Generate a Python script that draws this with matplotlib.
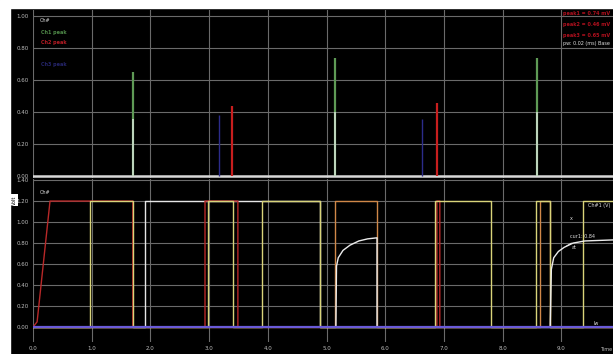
import matplotlib.pyplot as plt
from matplotlib.patches import Rectangle
import numpy as np

# peak detector channels (top panel)
peak_green_t = [1.70, 5.14, 8.59]
peak_green_h = [0.65, 0.74, 0.74]
peak_green_core = [0.36, 0.40, 0.40]
peak_red_t = [3.39, 6.88]
peak_red_h = [0.44, 0.46]
peak_blue_t = [3.17, 6.63]
peak_blue_h = [0.38, 0.36]

# digital lines (bottom panel), edge times and levels
yellow_t = [0, 0.97, 1.70, 2.98, 3.41, 3.90, 4.89, 6.85, 7.80, 8.57, 8.81, 9.37, 9.88]
yellow_v = [0, 1.2, 0, 1.2, 0, 1.2, 0, 1.2, 0, 1.2, 0, 1.2, 1.2]
white_t = [0, 1.91, 4.89, 9.88]
white_v = [0, 1.2, 0, 0]
orange_t = [0, 5.14, 5.86, 8.64, 8.81, 9.88]
orange_v = [0, 1.2, 0, 1.2, 0, 0]
red_x = [0, 0.07, 0.29, 1.70, 1.70, 2.93, 2.93, 3.49, 3.49, 6.88, 6.88, 6.93, 6.93, 9.88]
red_y = [0, 0.05, 1.2, 1.2, 0, 0, 1.2, 1.2, 0, 0, 1.2, 1.2, 0, 0]
blue_t = [0, 9.88]
blue_v = [0, 0]

# analog charge curves
charge1_x = [5.16, 5.17, 5.20, 5.28, 5.40, 5.55, 5.70, 5.86, 5.86]
charge1_y = [0, 0.58, 0.66, 0.73, 0.78, 0.82, 0.84, 0.85, 0]
charge2_x = [8.81, 8.83, 8.87, 8.95, 9.05, 9.20, 9.40, 9.88]
charge2_y = [0, 0.55, 0.66, 0.72, 0.76, 0.80, 0.82, 0.83]

x_ticks = np.arange(0, 10, 1.0)
top_ticks = [0.0, 0.2, 0.4, 0.6, 0.8, 1.0]
bot_ticks = [0.0, 0.2, 0.4, 0.6, 0.8, 1.0, 1.2, 1.4]

legend_names = ['Ch1 peak', 'Ch2 peak', 'Ch3 peak']
legend_colors = ['#4f8a48', '#b81c24', '#26266e']
legend_pos = [0.869, 0.804, 0.673]
readout_lines = ['peak1 = 0.74 mV', 'peak2 = 0.46 mV', 'peak3 = 0.65 mV']

fig = plt.figure(figsize=(6.13, 3.54), dpi=100)
fig.patch.set_facecolor('black')
fig.add_artist(Rectangle((0, 1 - 8/354), 1, 8/354, transform=fig.transFigure, color='white', zorder=0))
fig.add_artist(Rectangle((0, 0), 10/613, 1, transform=fig.transFigure, color='white', zorder=0))

ax1 = fig.add_axes([33/613, 1 - 178/354, 580/613, 168/354])
ax2 = fig.add_axes([33/613, 1 - 342/354, 580/613, 163/354], sharex=ax1)

grid_kw = dict(color='#6a6a6a', lw=0.8)
for ax in (ax1, ax2):
    ax.set_facecolor('black')
    for s in ax.spines.values():
        s.set_visible(False)
    ax.grid(True, **grid_kw)
    ax.set_axisbelow(True)
    ax.tick_params(length=0, colors='#bdbdbd', labelsize=4, pad=3)
    ax.set_xlim(0, 9.88)
    ax.set_xticks(x_ticks)

# top panel: peaks
ax1.set_ylim(-0.0125, 1.04)
ax1.set_yticks(top_ticks)
ax1.set_yticklabels(['%.2f' % v for v in top_ticks])
ax1.tick_params(labelbottom=False)
ax1.axhline(0, color='#d8d8d8', lw=1.8, zorder=3)
ax1.vlines(peak_blue_t, 0, peak_blue_h, color='#2c2c8a', lw=1.0, zorder=4)
ax1.vlines(peak_green_t, 0, peak_green_h, color='#5e9a55', lw=1.6, zorder=4)
ax1.vlines(peak_green_t, 0, peak_green_core, color='#cfe0d0', lw=1.2, zorder=5)
ax1.vlines(peak_red_t, 0, peak_red_h, color='#c81e1e', lw=1.6, zorder=4)

ax1.text(0.012, 0.94, 'Ch#', transform=ax1.transAxes, fontsize=3.5, color='#dddddd', va='center')
for name, col, yp in zip(legend_names, legend_colors, legend_pos):
    ax1.text(0.014, yp, name, transform=ax1.transAxes, fontsize=3.5, color=col, va='center',
             fontweight='bold')

for i, line in enumerate(readout_lines):
    ax1.text(0.995, 0.995 - i * 0.065, line, transform=ax1.transAxes, ha='right', va='top',
             fontsize=3.5, color='#b0101e', fontweight='bold')
ax1.text(0.995, 0.80, 'pw: 0.02 (ms) Base', transform=ax1.transAxes, ha='right', va='center',
         fontsize=3.5, color='#dddddd')

# bottom panel: logic lines and charge curves
ax2.set_ylim(-0.142, 1.41)
ax2.set_yticks(bot_ticks)
ax2.set_yticklabels(['%.2f' % v for v in bot_ticks])
ax2.set_xticklabels(['%.1f' % v for v in x_ticks])
ax2.step(white_t, white_v, where='post', color='#e6e6e6', lw=1.0, zorder=3)
ax2.step(yellow_t, yellow_v, where='post', color='#d9d47a', lw=1.0, zorder=4)
ax2.step(orange_t, orange_v, where='post', color='#d08848', lw=1.0, zorder=3)
ax2.plot(red_x, red_y, color='#b82828', lw=1.0, zorder=3)
ax2.plot(charge1_x, charge1_y, color='#ececec', lw=1.0, zorder=5)
ax2.plot(charge2_x, charge2_y, color='#ececec', lw=1.0, zorder=5)
ax2.step(blue_t, blue_v, where='post', color='#6a5ad8', lw=1.6, zorder=6)

ax2.text(0.012, 0.93, 'Ch#', transform=ax2.transAxes, fontsize=3.5, color='#dddddd', va='top')
ax2.text(0.995, 0.85, 'Ch#1 (V)', transform=ax2.transAxes, ha='right', va='top',
         fontsize=3.5, color='#dddddd')
ax2.text(9.15, 1.02, 'x', fontsize=3.5, color='#dddddd')
ax2.annotate('cur1: 0.84', xy=(9.05, 0.76), xytext=(9.15, 0.85), fontsize=3.5,
             color='#dddddd', arrowprops=dict(arrowstyle='-', color='#dddddd', lw=0.6))
ax2.text(9.17, 0.74, 'at', fontsize=3.5, color='#dddddd')
ax2.text(9.55, 0.02, 'lw', fontsize=3.5, color='#dddddd')
ax2.text(0.998, -0.045, 'Time', transform=ax2.transAxes, ha='right', va='center',
         fontsize=3.5, color='#bdbdbd')

fig.text(12/613, 1 - 200/354, 'Volt', rotation=90, fontsize=3.5, color='black', ha='left', va='center',
         bbox=dict(facecolor='white', edgecolor='none', pad=0.8))

fig.savefig('out.png', dpi=100, facecolor=fig.get_facecolor())
